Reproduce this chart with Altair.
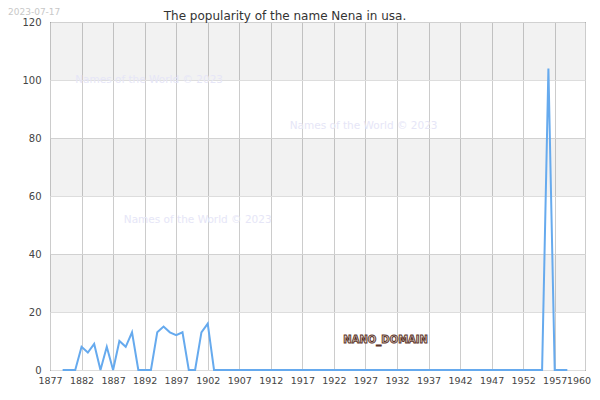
import altair as alt
import pandas as pd

# ---- data ----
years = list(range(1879, 1960))
values_early = [0, 0, 0, 8, 6, 9, 0, 8, 0, 10, 8, 13, 0, 0, 0, 13, 15, 13, 12, 13, 0, 0, 13, 16]  # 1879-1902
values_mid = [0] * (1955 - 1903 + 1)  # 1903-1955
values_late = [104, 0, 0, 0]  # 1956-1959
counts = values_early + values_mid + values_late

x_ticks = [1877, 1882, 1887, 1892, 1897, 1902, 1907, 1912, 1917, 1922, 1927,
           1932, 1937, 1942, 1947, 1952, 1957, 1961.8]
y_ticks = [0, 20, 40, 60, 80, 100, 120]
band_lo = [20, 60, 100]
band_hi = [40, 80, 120]

title_text = "The popularity of the name Nena in usa."
date_text = "2023-07-17"
wm_text = "Names of the World © 2023"
wm_year = [1881, 1915, 1888.7]
wm_val = [100, 84.2, 51.7]
nano_text = "NANO_DOMAIN"
nano_year = [1930.2]
nano_val = [10.3]

W, H = 535, 348
FONT = "DejaVu Sans"

df = pd.DataFrame({"year": years, "count": counts})
bands = pd.DataFrame({"year": [1877] * 3, "count": band_lo, "hi": band_hi})
wm = pd.DataFrame({"year": wm_year, "count": wm_val, "t": [wm_text] * 3})
nano = pd.DataFrame({"year": nano_year, "count": nano_val, "t": [nano_text]})

xscale = alt.Scale(domain=[1877, 1961.8], nice=False, zero=False)
yscale = alt.Scale(domain=[0, 120], nice=False)

xaxis = alt.Axis(values=x_ticks,
                 labelExpr="datum.value > 1960 ? '1960' : format(datum.value, 'd')",
                 labelOffset={"condition": {"test": "datum.value > 1960", "value": -6.5}, "value": 0},
                 ticks=False, domain=False, grid=True, gridColor="#cccccc",
                 labelOverlap=False, labelFlush=False, labelPadding=5,
                 labelFont=FONT, labelFontSize=9.5, labelColor="#444")
yaxis = alt.Axis(values=y_ticks, ticks=False, domain=False, grid=True, gridColor="#dddddd",
                 labelOverlap=False, labelFlush=False,
                 labelPadding=9, labelFont=FONT, labelFontSize=10, labelColor="#444")


def X():
    return alt.X("year:Q", scale=xscale, title=None, axis=xaxis)


def Y():
    return alt.Y("count:Q", scale=yscale, title=None, axis=yaxis)


band_layer = alt.Chart(bands).mark_rect(color="black", opacity=0.05).encode(
    x=alt.value(0), x2=alt.value(W),
    y=Y(), y2="hi:Q",
)

line = alt.Chart(df).mark_line(color="#66aaee", strokeWidth=2).encode(x=X(), y=Y())

wm_layer = alt.Chart(wm).mark_text(font=FONT, fontSize=10.5, color="#e6e6f7", align="left",
                                   baseline="middle").encode(x=X(), y=Y(), text="t:N")

nano_layer = alt.Chart(nano).mark_text(font=FONT, fontSize=10, fontWeight="bold", fill="#e6d6ce",
                                       stroke="#5a3328", strokeWidth=0.9, align="center",
                                       baseline="middle").encode(x=X(), y=Y(), text="t:N")

title_layer = alt.Chart(pd.DataFrame({"t": [title_text]})).mark_text(
    font=FONT, fontSize=12, color="#333", align="center", baseline="middle").encode(
    x=alt.value(235), y=alt.value(-6), text="t:N")

date_layer = alt.Chart(pd.DataFrame({"t": [date_text]})).mark_text(
    font=FONT, fontSize=9, color="#c8c8c8", align="left", baseline="top").encode(
    x=alt.value(-42), y=alt.value(-14), text="t:N")

chart = alt.layer(band_layer, line, wm_layer, nano_layer, title_layer, date_layer).properties(
    width=W, height=H,
    autosize=alt.AutoSizeParams(type="none"),
    padding={"left": 42, "top": 14, "right": 7, "bottom": 22},
).configure_view(stroke="black", strokeWidth=1)

chart.save("out.html", embed_options={"renderer": "svg", "actions": False})
